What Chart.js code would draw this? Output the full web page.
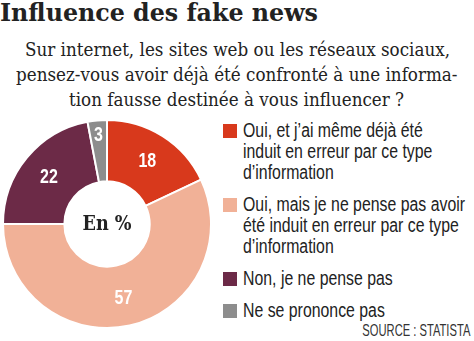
<!DOCTYPE html>
<html>
<head>
<meta charset="utf-8">
<script src="https://cdn.jsdelivr.net/npm/chart.js@4"></script>
<style>
  html, body { margin: 0; padding: 0; background: #fff; }
  body { width: 474px; height: 341px; position: relative; overflow: hidden; color: #222; }
  .fit { display: inline-block; white-space: nowrap; transform-origin: 0 0; }
  #title { position: absolute; left: 0; top: -2px; font: bold 25px "DejaVu Serif", serif; }
  #subtitle { position: absolute; left: 0; width: 474px; top: 37px; font: 18px "DejaVu Serif", serif; line-height: 25px; }
  #subtitle .row { position: relative; height: 25px; }
  #subtitle .fit { position: absolute; left: 237px; }
  #chartBox { position: absolute; left: 2px; top: 119px; width: 210px; height: 210px; }
  #legend { position: absolute; left: 223px; top: 120px; width: 251px; font: 20px "Liberation Sans", sans-serif; line-height: 21px; }
  .item { position: relative; padding-left: 20px; margin-bottom: 11px; }
  .item .ln { height: 21px; }
  .sw { position: absolute; left: 0; top: 4px; width: 14px; height: 14px; }
  #source { position: absolute; right: 4px; top: 321px; font: 17px "Liberation Sans", sans-serif; color: #333; }
</style>
</head>
<body>
<div id="title"><span class="fit">Influence des fake news</span></div>
<div id="subtitle"></div>
<div id="chartBox"><canvas id="donut"></canvas></div>
<div id="legend"></div>
<div id="source"><span class="fit">SOURCE : STATISTA</span></div>
<script>
const categories = [
  ["Oui, et j\u2019ai même déjà été", "induit en erreur par ce type", "d\u2019information"],
  ["Oui, mais je ne pense pas avoir", "été induit en erreur par ce type", "d\u2019information"],
  ["Non, je ne pense pas"],
  ["Ne se prononce pas"]
];
const values = [18, 57, 22, 3];
const colors = ['#d8391c', '#f1b197', '#6c2a47', '#8d8d8d'];
const subtitleLines = [
  "Sur internet, les sites web ou les réseaux sociaux,",
  "pensez-vous avoir déjà été confronté à une informa-",
  "tion fausse destinée à vous influencer ?"
];
const centerLabel = 'En %';

// no narrow/condensed fonts installed: squeeze text horizontally to the original widths
function squeeze(el, sx) {
  el.style.transform = 'scaleX(' + sx + ')';
}
const widthOf = el => el.getBoundingClientRect().width;

// title ~318px wide
const t = document.querySelector('#title .fit');
squeeze(t, 318 / widthOf(t));

// subtitle, centred lines, first line ~425px
const sub = document.getElementById('subtitle');
const subSpans = subtitleLines.map(s => {
  const row = document.createElement('div');
  row.className = 'row';
  const sp = document.createElement('span');
  sp.className = 'fit';
  sp.textContent = s;
  row.appendChild(sp);
  sub.appendChild(row);
  return sp;
});
const subScale = 425 / widthOf(subSpans[0]);
subSpans.forEach(sp => {
  sp.style.left = (237 - widthOf(sp) * subScale / 2) + 'px';
  squeeze(sp, subScale);
});

// legend, longest line ~222px
const legend = document.getElementById('legend');
const legendSpans = [];
categories.forEach((lines, i) => {
  const d = document.createElement('div');
  d.className = 'item';
  d.innerHTML = '<span class="sw" style="background:' + colors[i] + '"></span>';
  lines.forEach(l => {
    const ln = document.createElement('div');
    ln.className = 'ln';
    const sp = document.createElement('span');
    sp.className = 'fit';
    sp.textContent = l;
    ln.appendChild(sp);
    d.appendChild(ln);
    legendSpans.push(sp);
  });
  legend.appendChild(d);
});
const legScale = 222 / widthOf(legendSpans[3]);
legendSpans.forEach(sp => squeeze(sp, legScale));

const src = document.querySelector('#source .fit');
src.style.transformOrigin = '100% 0';
squeeze(src, 108 / widthOf(src));

const NARROW = 0.8;
const sliceLabels = {
  id: 'sliceLabels',
  afterDatasetsDraw(chart) {
    const ctx = chart.ctx;
    const meta = chart.getDatasetMeta(0);
    ctx.save();
    ctx.textAlign = 'center';
    ctx.textBaseline = 'middle';
    meta.data.forEach((arc, i) => {
      const p = arc.getProps(['x', 'y', 'startAngle', 'endAngle', 'innerRadius', 'outerRadius'], true);
      const mid = (p.startAngle + p.endAngle) / 2;
      // thin slice: push label outward
      const r = values[i] < 5 ? p.outerRadius - 14 : (p.innerRadius + p.outerRadius) / 2 + 2;
      ctx.save();
      ctx.translate(p.x + Math.cos(mid) * r, p.y + Math.sin(mid) * r);
      ctx.scale(NARROW, 1);
      ctx.fillStyle = '#fff';
      ctx.font = 'bold 20px "Liberation Sans", sans-serif';
      ctx.fillText(String(values[i]), 0, 1);
      ctx.restore();
    });
    const c = meta.data[0];
    ctx.translate(c.x, c.y);
    ctx.scale(0.88, 1);
    ctx.fillStyle = '#222';
    ctx.font = 'bold 20px "DejaVu Serif", serif';
    ctx.fillText(centerLabel, 0, 1);
    ctx.restore();
  }
};

new Chart(document.getElementById('donut'), {
  type: 'doughnut',
  data: {
    labels: categories.map(l => l.join(' ')),
    datasets: [{
      data: values,
      backgroundColor: colors,
      borderColor: '#fff',
      borderWidth: 2
    }]
  },
  options: {
    responsive: true,
    maintainAspectRatio: false,
    animation: false,
    cutout: '41%',
    layout: { padding: 0 },
    plugins: { legend: { display: false }, tooltip: { enabled: false } }
  },
  plugins: [sliceLabels]
});
</script>
</body>
</html>
